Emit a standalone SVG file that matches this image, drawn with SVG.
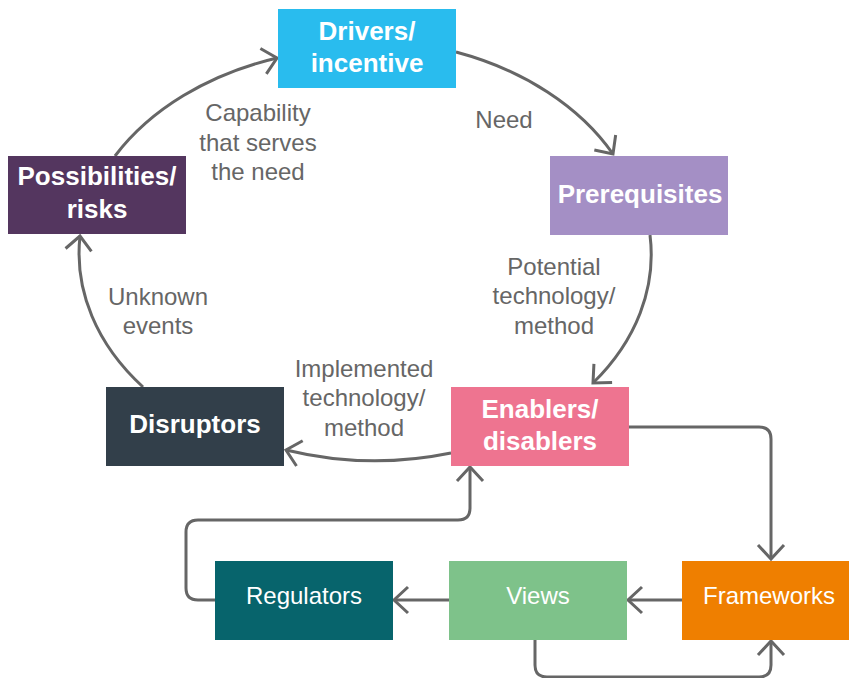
<svg xmlns="http://www.w3.org/2000/svg" width="849" height="678" viewBox="0 0 849 678">
<style>
.node text{font-family:"Liberation Sans",Arial,sans-serif;fill:#fff;text-anchor:middle}
.b{font-size:26px;font-weight:bold}
.n{font-size:24px}
.lbl{font-family:"Liberation Sans",Arial,sans-serif;font-size:24px;fill:#666;text-anchor:middle}
.c path{fill:none;stroke:#666;stroke-width:3}
</style>
<defs>
<marker id="ah" markerUnits="userSpaceOnUse" viewBox="-20 -20 40 40" markerWidth="40" markerHeight="40" refX="0" refY="0" orient="auto" overflow="visible">
<path d="M-14,-13 L0,0 L-14,13" fill="none" stroke="#666" stroke-width="3" stroke-linejoin="miter"/>
</marker>
</defs>
<rect width="849" height="678" fill="#fff"/>
<g class="c" id="connectors">
<path d="M456,52 A285,212 0 0 1 613,154" marker-end="url(#ah)"/>
<path d="M650,235 A285,212 0 0 1 593,383" marker-end="url(#ah)"/>
<path d="M451,453 A285,212 0 0 1 286,450" marker-end="url(#ah)"/>
<path d="M143,387 A285,212 0 0 1 80,236" marker-end="url(#ah)"/>
<path d="M115,156 A285,212 0 0 1 277,58" marker-end="url(#ah)"/>
<path d="M628,427 H759 Q771,427 771,439 V559" marker-end="url(#ah)"/>
<path d="M682,600 H628" marker-end="url(#ah)"/>
<path d="M449,600 H394" marker-end="url(#ah)"/>
<path d="M215,600 H198 Q186,600 186,588 V532 Q186,520 198,520 H458 Q470,520 470,508 V467" marker-end="url(#ah)"/>
<path d="M535,640 V665 Q535,677 547,677 H759 Q771,677 771,665 V641" marker-end="url(#ah)"/>
</g>
<g class="node" id="drivers"><rect x="278" y="9" width="178" height="79" fill="#29BCEE"/><text class="b" x="367" y="40">Drivers/</text><text class="b" x="367" y="72">incentive</text></g>
<g class="node" id="prerequisites"><rect x="550" y="156" width="178" height="79" fill="#A48FC5"/><text class="b" x="640" y="203">Prerequisites</text></g>
<g class="node" id="possibilities"><rect x="8" y="156" width="178" height="78" fill="#54365F"/><text class="b" x="97" y="185">Possibilities/</text><text class="b" x="97" y="218">risks</text></g>
<g class="node" id="disruptors"><rect x="106" y="387" width="178" height="79" fill="#323F4A"/><text class="b" x="195" y="433">Disruptors</text></g>
<g class="node" id="enablers"><rect x="451" y="387" width="178" height="79" fill="#EE7490"/><text class="b" x="540" y="418">Enablers/</text><text class="b" x="540" y="450">disablers</text></g>
<g class="node" id="regulators"><rect x="215" y="561" width="178" height="79" fill="#07646C"/><text class="n" x="304" y="604">Regulators</text></g>
<g class="node" id="views"><rect x="449" y="561" width="178" height="79" fill="#7EC28A"/><text class="n" x="538" y="604">Views</text></g>
<g class="node" id="frameworks"><rect x="682" y="561" width="178" height="79" fill="#EF7F00"/><text class="n" x="769" y="604">Frameworks</text></g>
<g id="labels">
<text class="lbl" x="504" y="128">Need</text>
<text class="lbl" x="258" y="121">Capability</text>
<text class="lbl" x="258" y="151">that serves</text>
<text class="lbl" x="258" y="180">the need</text>
<text class="lbl" x="554" y="275">Potential</text>
<text class="lbl" x="554" y="304">technology/</text>
<text class="lbl" x="554" y="334">method</text>
<text class="lbl" x="158" y="305">Unknown</text>
<text class="lbl" x="158" y="334">events</text>
<text class="lbl" x="364" y="377">Implemented</text>
<text class="lbl" x="364" y="406">technology/</text>
<text class="lbl" x="364" y="436">method</text>
</g>
</svg>
